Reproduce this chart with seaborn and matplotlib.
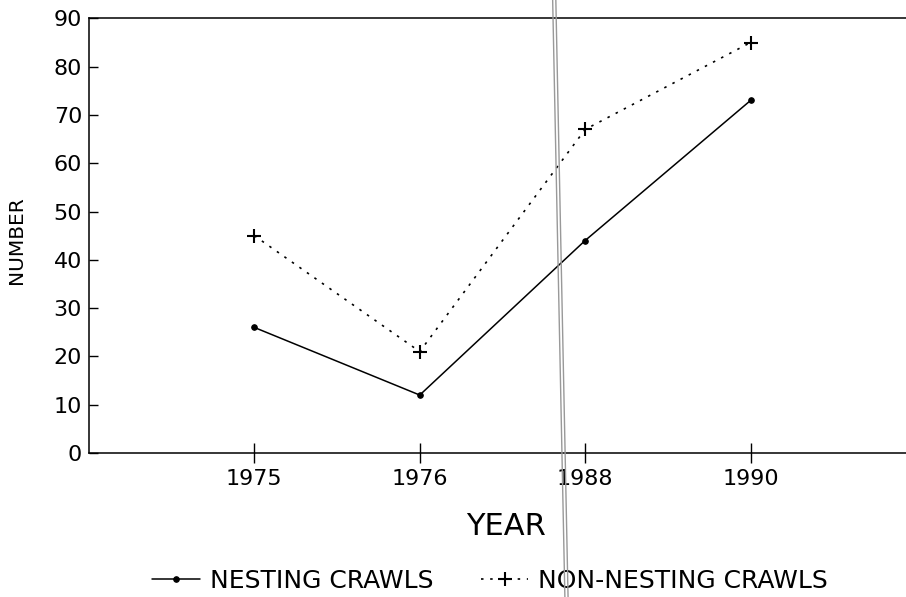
import matplotlib
matplotlib.use("Agg")
import matplotlib.pyplot as plt
import seaborn as sns
import pandas as pd
from matplotlib.lines import Line2D

# valores
anos = ["1975", "1976", "1988", "1990"]
nesting = [26, 12, 44, 73]
non_nesting = [45, 21, 67, 85]
yticks = list(range(0, 100, 10))

df = pd.DataFrame({
    "ano": anos * 2,
    "valor": nesting + non_nesting,
    "serie": ["NESTING CRAWLS"] * 4 + ["NON-NESTING CRAWLS"] * 4,
})
df["pos"] = list(range(len(anos))) * 2

sns.set_style("ticks")
plt.rcParams["font.family"] = ["DejaVu Sans"]
plt.rcParams["text.color"] = "black"
plt.rcParams["axes.labelcolor"] = "black"
plt.rcParams["xtick.color"] = "black"
plt.rcParams["ytick.color"] = "black"

fig = plt.figure(figsize=(9.06, 5.97), dpi=100)
ax = fig.add_axes([0.0982, 0.2412, 0.9018, 0.728])

sns.lineplot(data=df[df.serie == "NESTING CRAWLS"], x="pos", y="valor", ax=ax,
             color="black", lw=1.1, marker="o", markersize=4,
             markeredgecolor="black", label="NESTING CRAWLS")
sns.lineplot(data=df[df.serie == "NON-NESTING CRAWLS"], x="pos", y="valor", ax=ax,
             color="black", lw=1.2, linestyle=(0, (1.5, 4)), marker="+",
             markersize=10, markeredgewidth=1.5, markeredgecolor="black",
             label="NON-NESTING CRAWLS")

ax.set_xlim(-1, 3.94)
ax.set_ylim(0, 90)
ax.set_xticks(range(len(anos)))
ax.set_xticklabels(anos)
ax.set_yticks(yticks)
ax.tick_params(axis="y", direction="in", length=6.5, width=1, labelsize=16, pad=5)
ax.tick_params(axis="x", direction="inout", length=14.5, width=1, labelsize=16, pad=4)
for s in ["left", "bottom", "top"]:
    ax.spines[s].set_linewidth(1.1)
    ax.spines[s].set_color("black")
ax.spines["right"].set_visible(False)

ax.set_xlabel("YEAR", fontsize=22)
ax.set_ylabel("NUMBER", fontsize=14.5)
ax.xaxis.set_label_coords(0.51, -0.135)
ax.yaxis.set_label_coords(-0.077, 0.49)

ax.legend(loc="center", bbox_to_anchor=(0.491, -0.294), ncol=2, frameon=False,
          fontsize=18, handlelength=1.9, columnspacing=1.9, handletextpad=0.4,
          borderpad=0, borderaxespad=0)

# vinco do papel escaneado
for dx in (0.0, 0.0035):
    fig.add_artist(Line2D([0.610 + dx, 0.6235 + dx], [1.0, 0.0], transform=fig.transFigure,
                          color="#999999", lw=1.0))

fig.savefig("out.png", dpi=100, facecolor="white")
